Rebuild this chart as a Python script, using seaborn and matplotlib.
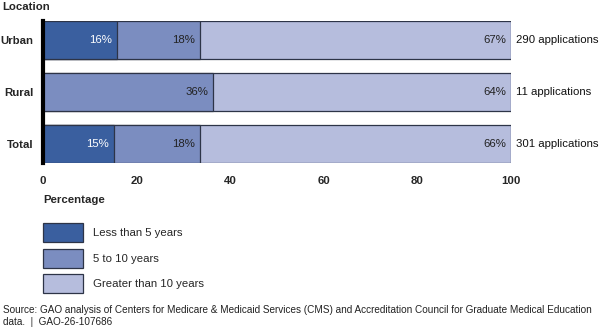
import matplotlib
matplotlib.use("Agg")
import matplotlib.pyplot as plt
import seaborn as sns
import pandas as pd
import numpy as np
from matplotlib.patches import Patch

sns.set_theme(style="white")
plt.rcParams['font.family'] = ['Liberation Sans', 'DejaVu Sans']

locations = ["Urban", "Rural", "Total"]
series_names = ["Less than 5 years", "5 to 10 years", "Greater than 10 years"]
less_than_5 = [15.8, 0.0, 15.2]
five_to_10 = [17.7, 36.4, 18.3]
greater_10 = [66.5, 63.6, 66.5]
label_less_than_5 = ["16%", "", "15%"]
label_five_to_10 = ["18%", "36%", "18%"]
label_greater_10 = ["67%", "64%", "66%"]
applications = ["290 applications", "11 applications", "301 applications"]
x_ticks = [0, 20, 40, 60, 80, 100]

colors = ["#3a5f9f", "#7b8dc0", "#b6bddd"]
edge = "#2d3447"
FS = 8.2

df = pd.DataFrame({"Location": locations,
                   "s1": less_than_5, "s2": five_to_10, "s3": greater_10})
df["c1"] = df["s1"]
df["c2"] = df["s1"] + df["s2"]
df["c3"] = df["s1"] + df["s2"] + df["s3"]

fig = plt.figure(figsize=(6, 3.28), dpi=100)
ax = fig.add_axes([43/600, 1-163/328, (511-43)/600, (163-21)/328])

for col, c in zip(["c3", "c2", "c1"], colors[::-1]):
    sns.barplot(data=df, y="Location", x=col, color=c, orient="h", width=0.72,
                edgecolor=edge, linewidth=0.9, ax=ax, saturation=1)

ax.set_xlim(0, 100)
ax.set_ylim(2.36, -0.36)
ax.set_xticks(x_ticks)
ax.set_xticklabels([str(t) for t in x_ticks], fontweight="bold", fontsize=FS)
ax.set_yticks(range(len(locations)))
ax.set_yticklabels(locations, fontweight="bold", fontsize=FS)
ax.tick_params(axis="x", length=0, pad=9.5)
ax.tick_params(axis="y", length=0, pad=7)
ax.set_xlabel("")
ax.set_ylabel("")
for s in ["top", "right", "bottom"]:
    ax.spines[s].set_visible(False)
ax.spines["left"].set_color("black")
ax.spines["left"].set_linewidth(3)
ax.spines["left"].set_zorder(10)

ends = [df["c1"], df["c2"], df["c3"]]
labels = [label_less_than_5, label_five_to_10, label_greater_10]
tcolors = ["white", "#222222", "#222222"]
for e, lab, tc in zip(ends, labels, tcolors):
    for i, (xv, t) in enumerate(zip(e, lab)):
        if t:
            ax.text(xv - 1.1, i, t, ha="right", va="center", fontsize=FS, color=tc)
for i, t in enumerate(applications):
    ax.text(101.1, i, t, ha="left", va="center", fontsize=FS, color="#111111",
            clip_on=False)

fig.text(2/600, 1-7/328, "Location", fontweight="bold", fontsize=FS,
         ha="left", va="center")
fig.text(43/600, 1-200/328, "Percentage", fontweight="bold", fontsize=FS,
         ha="left", va="center")

handles = [Patch(facecolor=c, edgecolor=edge, linewidth=0.9) for c in colors]
fig.legend(handles, series_names, loc="upper left",
           bbox_to_anchor=(39.6/600, 1-219.6/328), frameon=False, fontsize=FS,
           handlelength=3.5, handleheight=2.19, labelspacing=0.57,
           handletextpad=0.88, borderaxespad=0, borderpad=0.3)

fig.text(3/600, 1-310/328,
         "Source: GAO analysis of Centers for Medicare & Medicaid Services (CMS) and Accreditation Council for Graduate Medical Education",
         fontsize=7.2, ha="left", va="center", color="#222222")
fig.text(3/600, 1-322/328, "data.  |  GAO-26-107686",
         fontsize=7.2, ha="left", va="center", color="#222222")

fig.savefig("out.png", dpi=100)
